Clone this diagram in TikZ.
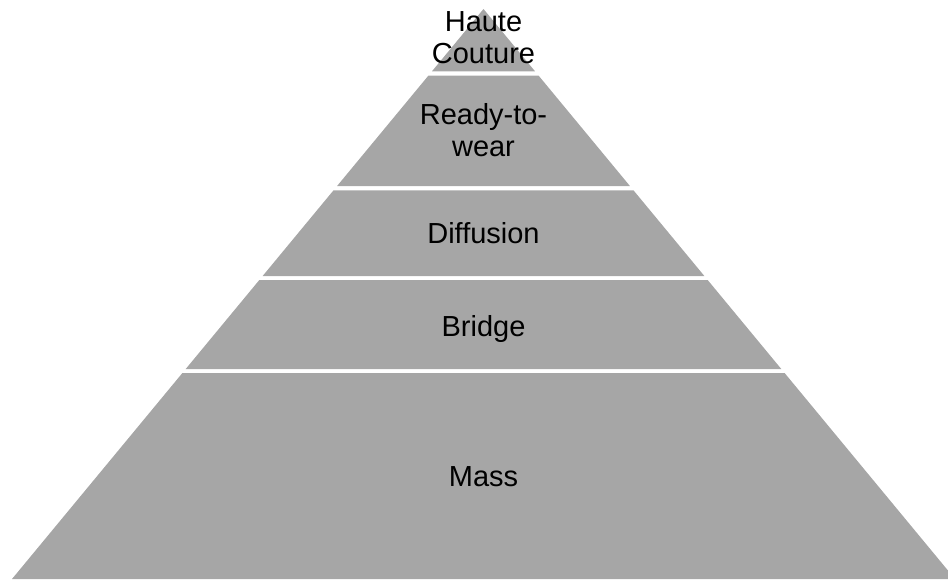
\documentclass[tikz,border=0pt]{standalone}
\usepackage{fontspec}
\setmainfont{Liberation Sans}
\usepackage{tikz}
\usetikzlibrary{calc, positioning}
\definecolor{levelgray}{RGB}{166, 166, 166}

\begin{document}
\begin{tikzpicture}[x=0.02cm, y=-0.02cm,
    level/.style={fill=levelgray, draw=none},
    tierlabel/.style={align=center, text=black, inner sep=0pt, font=\fontsize{16.5}{18.2}\selectfont}]

    \clip (0,0) rectangle (948,579);

    % Corners
    \coordinate (apex) at (483.5,9);
    \coordinate (bl) at (12,579);
    \coordinate (br) at (955,579);

    % Levels
    \foreach \ya/\yb in {9/71.5, 75.7/186, 190.3/276, 280/369, 373/579} {
        \fill[level] ($(apex)!{(\ya-9)/570}!(bl)$) -- ($(apex)!{(\yb-9)/570}!(bl)$)
            -- ($(apex)!{(\yb-9)/570}!(br)$) -- ($(apex)!{(\ya-9)/570}!(br)$) -- cycle;
    }

    % Nodes
    \node[tierlabel] (haute) at (483.5,38) {Haute\\Couture};
    \node[tierlabel] (ready) at (483.5,130) {Ready-to-\\wear};
    \node[tierlabel] (diffusion) at (483.5,233) {Diffusion};
    \node[tierlabel] (bridge) at (483.5,329) {Bridge};
    \node[tierlabel] (mass) at (483.5,477) {Mass};
\end{tikzpicture}
\end{document}
